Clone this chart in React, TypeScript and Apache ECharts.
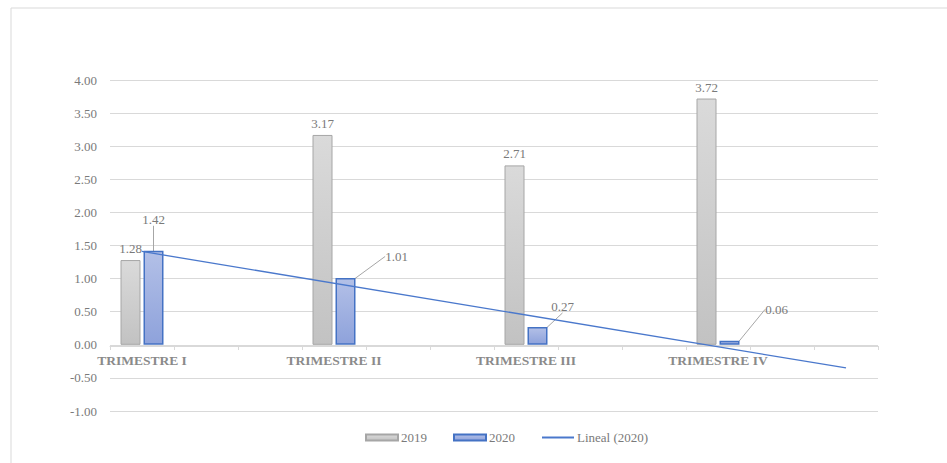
import React, { useEffect, useRef } from "react";
import * as echarts from "echarts";

const categories = [
  "TRIMESTRE I", "", "",
  "TRIMESTRE II", "", "",
  "TRIMESTRE III", "", "",
  "TRIMESTRE IV", "", "",
];
const values2019 = [1.28, null, null, 3.17, null, null, 2.71, null, null, 3.72, null, null];
const values2020 = [1.42, null, null, 1.01, null, null, 0.27, null, null, 0.06, null, null];
// Linear trendline of 2020 (end points)
const trend2020 = [1.41, null, null, null, null, null, null, null, null, null, null, -0.35];
const yTicks = { min: -1, max: 4, interval: 0.5 };

const FONT = '"Liberation Serif", "Times New Roman", serif';
const TEXT_COLOR = "#7a7a7a";

// label offsets for 2020 labels (dx, dy) by data index
const label2020Offsets: Record<number, [number, number]> = {
  0: [0, -20],
  3: [51, -10],
  6: [25, -9],
  9: [47, -20],
};

export default function App() {
  const ref = useRef<HTMLDivElement>(null);
  useEffect(() => {
    if (!ref.current) return;
    const chart = echarts.init(ref.current, null, { renderer: "svg" });
    chart.setOption({
      animation: false,
      backgroundColor: "#ffffff",
      textStyle: { fontFamily: FONT },
      graphic: [
        {
          type: "rect",
          shape: { x: 11, y: 8, width: 1000, height: 500 },
          style: { fill: "none", stroke: "#d9d9d9", lineWidth: 1 },
          silent: true,
        },
      ],
      grid: { left: 110, right: 69, top: 80, bottom: 52, containLabel: false },
      legend: {
        left: 360,
        top: 426,
        itemWidth: 32,
        itemHeight: 6,
        itemGap: 26,
        textStyle: { fontFamily: FONT, fontSize: 13, color: TEXT_COLOR, padding: [0, 0, 0, -2] },
        data: [
          { name: "2019", icon: "rect" },
          { name: "2020", icon: "rect" },
          { name: "Lineal (2020)", itemStyle: { opacity: 0 } },
        ],
      },
      xAxis: {
        type: "category",
        data: categories,
        boundaryGap: true,
        offset: -65,
        axisLine: { show: true, onZero: false, lineStyle: { color: "#d9d9d9", width: 1 } },
        axisTick: { show: true, length: 4, lineStyle: { color: "#d9d9d9" } },
        axisLabel: {
          interval: 0,
          margin: 7,
          fontFamily: FONT,
          fontSize: 13.5,
          fontWeight: "bold",
          color: "#8a8a8a",
        },
        splitLine: { show: false },
      },
      yAxis: {
        type: "value",
        min: yTicks.min,
        max: yTicks.max,
        interval: yTicks.interval,
        axisLine: { show: false },
        axisTick: { show: false },
        axisLabel: {
          margin: 13,
          fontFamily: FONT,
          fontSize: 13,
          color: TEXT_COLOR,
          formatter: (v: number) => v.toFixed(2),
        },
        splitLine: { lineStyle: { color: "#d9d9d9", width: 1 } },
      },
      series: [
        {
          name: "2019",
          type: "bar",
          data: values2019,
          barWidth: 20,
          barGap: "15%",
          itemStyle: {
            color: new echarts.graphic.LinearGradient(0, 0, 0, 1, [
              { offset: 0, color: "#dadada" },
              { offset: 1, color: "#c2c2c2" },
            ]),
            borderColor: "#a6a6a6",
            borderWidth: 1,
          },
          label: {
            show: true,
            position: "top",
            distance: 5,
            fontFamily: FONT,
            fontSize: 13,
            color: TEXT_COLOR,
            formatter: (p: any) => (p.value == null ? "" : Number(p.value).toFixed(2)),
          },
        },
        {
          name: "2020",
          type: "bar",
          data: values2020,
          barWidth: 20,
          barGap: "15%",
          itemStyle: {
            color: new echarts.graphic.LinearGradient(0, 0, 0, 1, [
              { offset: 0, color: "#b3c0e7" },
              { offset: 1, color: "#8ea2db" },
            ]),
            borderColor: "#4472c4",
            borderWidth: 1.5,
          },
          label: {
            show: true,
            position: "top",
            distance: 5,
            fontFamily: FONT,
            fontSize: 13,
            color: TEXT_COLOR,
            formatter: (p: any) => (p.value == null ? "" : Number(p.value).toFixed(2)),
          },
          labelLine: { show: true, lineStyle: { color: "#a6a6a6", width: 1 } },
          labelLayout: (params: any) => {
            const off = label2020Offsets[params.dataIndex];
            if (!off) return {};
            return { dx: off[0], dy: off[1] };
          },
        },
        {
          name: "Lineal (2020)",
          type: "line",
          data: trend2020,
          connectNulls: true,
          symbol: "none",
          lineStyle: { color: "#4a78cc", width: 1.3 },
          itemStyle: { color: "#4a78cc" },
          z: 5,
        },
      ],
    });
    return () => chart.dispose();
  }, []);
  return (
    <div
      ref={ref}
      style={{ position: "absolute", left: 0, top: 0, width: 947, height: 463 }}
    />
  );
}
